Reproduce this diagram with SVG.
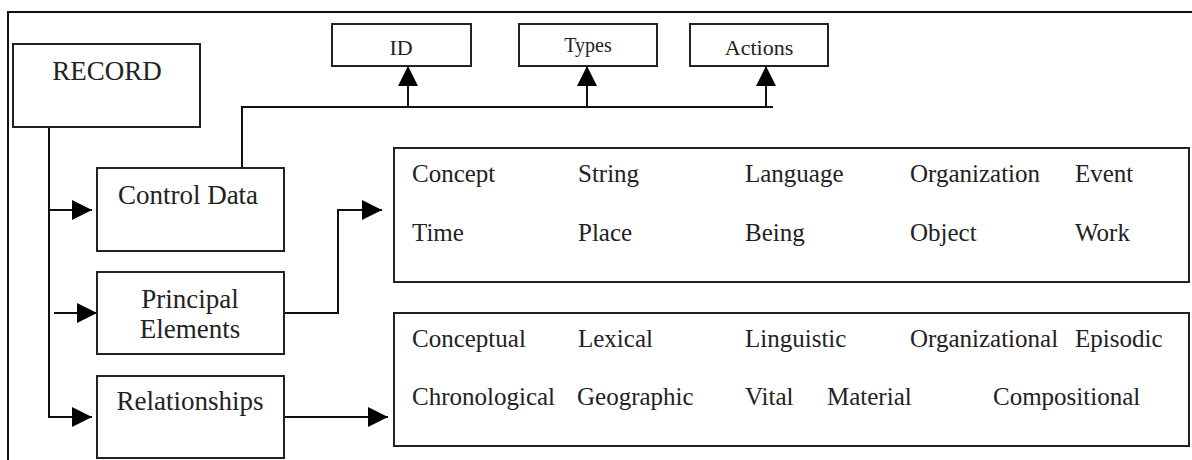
<svg xmlns="http://www.w3.org/2000/svg" width="1192" height="460" viewBox="0 0 1192 460">
<style>
  .box { fill: #fff; stroke: #222; stroke-width: 2; }
  .line { fill: none; stroke: #111; stroke-width: 2; }
  text { font-family: "Liberation Serif", "Times New Roman", serif; fill: #222; }
  .big { font-size: 27px; text-anchor: middle; }
  .item { font-size: 25px; }
  .small { font-size: 22px; text-anchor: middle; }
</style>
<defs>
  <marker id="arr" viewBox="0 0 20 20" refX="20" refY="10" markerWidth="20" markerHeight="20" markerUnits="userSpaceOnUse" orient="auto">
    <path d="M0,0 L20,10 L0,20 z" fill="#000"/>
  </marker>
</defs>
<rect width="1192" height="460" fill="#fff"/>
<path class="line" d="M8,460 V12 H1192"/>

<g id="connectors">
  <path class="line" d="M49,127 V417 H92" marker-end="url(#arr)"/>
  <path class="line" d="M49,210 H92" marker-end="url(#arr)"/>
  <path class="line" d="M54,313 H97" marker-end="url(#arr)"/>
  <path class="line" d="M284,313 H338 V210 H382" marker-end="url(#arr)"/>
  <path class="line" d="M284,417 H388" marker-end="url(#arr)"/>
  <path class="line" d="M242,168 V107 H773"/>
  <path class="line" d="M408,107 V66" marker-end="url(#arr)"/>
  <path class="line" d="M587,107 V66" marker-end="url(#arr)"/>
  <path class="line" d="M766,107 V66" marker-end="url(#arr)"/>
</g>

<g id="record">
  <rect class="box" x="13" y="44" width="187" height="83"/>
  <text class="big" x="107" y="80">RECORD</text>
</g>
<g id="control-data">
  <rect class="box" x="97" y="168" width="187" height="83"/>
  <text class="big" x="188" y="204">Control Data</text>
</g>
<g id="principal-elements">
  <rect class="box" x="97" y="272" width="187" height="82"/>
  <text class="big" x="190" y="308">Principal</text>
  <text class="big" x="190" y="338">Elements</text>
</g>
<g id="relationships">
  <rect class="box" x="97" y="376" width="187" height="82"/>
  <text class="big" x="190" y="410">Relationships</text>
</g>
<g id="id">
  <rect class="box" x="332" y="24" width="139" height="42"/>
  <text class="small" x="401" y="55">ID</text>
</g>
<g id="types">
  <rect class="box" x="519" y="24" width="138" height="42"/>
  <text class="small" x="588" y="52" style="font-size:20px">Types</text>
</g>
<g id="actions">
  <rect class="box" x="690" y="24" width="138" height="42"/>
  <text class="small" x="759" y="55">Actions</text>
</g>
<g id="principal-list">
  <rect class="box" x="394" y="148" width="795" height="134"/>
  <text class="item" x="412" y="182">Concept</text>
  <text class="item" x="578" y="182">String</text>
  <text class="item" x="745" y="182">Language</text>
  <text class="item" x="910" y="182">Organization</text>
  <text class="item" x="1075" y="182">Event</text>
  <text class="item" x="412" y="241">Time</text>
  <text class="item" x="578" y="241">Place</text>
  <text class="item" x="745" y="241">Being</text>
  <text class="item" x="910" y="241">Object</text>
  <text class="item" x="1075" y="241">Work</text>
</g>
<g id="relationship-list">
  <rect class="box" x="394" y="313" width="795" height="133"/>
  <text class="item" x="412" y="347">Conceptual</text>
  <text class="item" x="578" y="347">Lexical</text>
  <text class="item" x="745" y="347">Linguistic</text>
  <text class="item" x="910" y="347">Organizational</text>
  <text class="item" x="1075" y="347">Episodic</text>
  <text class="item" x="412" y="405">Chronological</text>
  <text class="item" x="577" y="405">Geographic</text>
  <text class="item" x="745" y="405">Vital</text>
  <text class="item" x="827" y="405">Material</text>
  <text class="item" x="993" y="405">Compositional</text>
</g>
</svg>
